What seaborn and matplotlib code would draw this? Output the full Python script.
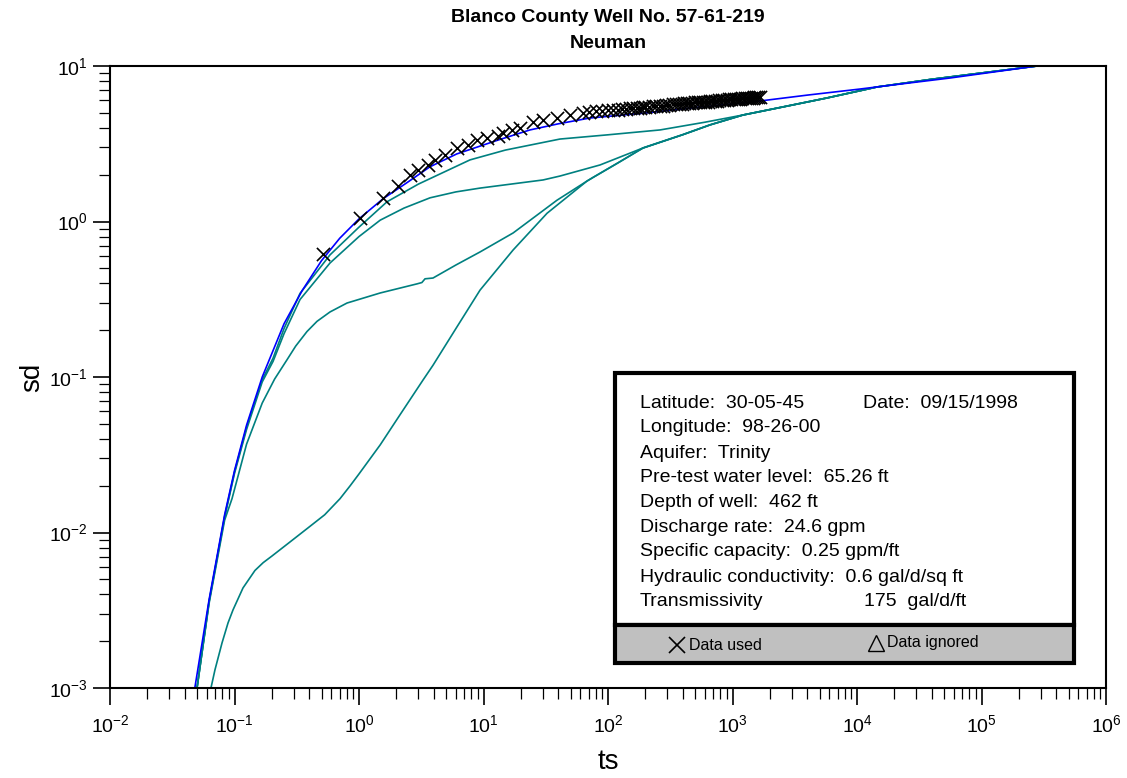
import numpy as np
import pandas as pd
import matplotlib
matplotlib.use("Agg")
import matplotlib.pyplot as plt
import seaborn as sns
from matplotlib.patches import Rectangle
from matplotlib.ticker import LogLocator, NullFormatter

# ---------------- data ----------------
blue_ts = [0.048, 0.0625, 0.0833, 0.1, 0.125, 0.167, 0.25, 0.35, 0.5, 0.7, 1.0, 1.56, 2.41, 3.72, 6.1,
           13.1, 23.6, 40, 71.6, 206, 519, 1384, 4000, 10570, 25000, 55800, 279000]
blue_sd = [0.001, 0.0037, 0.013, 0.025, 0.049, 0.10, 0.22, 0.36, 0.56, 0.78, 1.04, 1.40, 1.77, 2.25, 2.72,
           3.34, 3.88, 4.25, 4.63, 5.00, 5.42, 5.85, 6.50, 7.11, 7.74, 8.37, 10.0]

t1_ts = [0.050, 0.0625, 0.0833, 0.1, 0.125, 0.167, 0.204, 0.25, 0.336, 0.585, 1.0, 1.68, 3.0, 7.79, 15,
         41.1, 100, 262, 600, 1214, 2500, 5741, 14480, 40000, 279000]
t1_sd = [0.001, 0.0036, 0.0127, 0.0245, 0.0475, 0.096, 0.132, 0.205, 0.345, 0.61, 0.92, 1.34, 1.74, 2.49, 2.88,
         3.39, 3.61, 3.88, 4.35, 4.84, 5.44, 6.23, 7.33, 8.22, 10.0]

t2_ts = [0.050, 0.0625, 0.0833, 0.1, 0.125, 0.167, 0.204, 0.25, 0.336, 0.585, 1.0, 1.48, 2.3, 3.72, 6.0,
         9.38, 30.1, 41.1, 86.3, 191, 400, 659, 1214, 2500, 5741, 14480, 40000, 279000]
t2_sd = [0.001, 0.0036, 0.0125, 0.024, 0.046, 0.093, 0.126, 0.19, 0.315, 0.541, 0.80, 1.02, 1.22, 1.42, 1.55,
         1.64, 1.85, 1.96, 2.31, 2.97, 3.62, 4.18, 4.84, 5.44, 6.23, 7.33, 8.22, 10.0]

t3_ts = [0.050, 0.0625, 0.0833, 0.0955, 0.125, 0.167, 0.21, 0.264, 0.31, 0.382, 0.46, 0.585, 0.801, 1.48,
         2.92, 3.2, 3.39, 3.93, 6.0, 9.38, 17.3, 38.9, 67.8, 75.8, 120, 191, 400, 659, 1214, 2500, 5741,
         14480, 40000, 279000]
t3_sd = [0.001, 0.0035, 0.012, 0.0165, 0.037, 0.068, 0.097, 0.129, 0.158, 0.196, 0.228, 0.262, 0.299, 0.347,
         0.397, 0.405, 0.428, 0.433, 0.525, 0.637, 0.844, 1.37, 1.82, 1.92, 2.38, 2.97, 3.62, 4.18, 4.84,
         5.44, 6.23, 7.33, 8.22, 10.0]

t4_ts = [0.0647, 0.0697, 0.0794, 0.0887, 0.0973, 0.117, 0.146, 0.17, 0.200, 0.279, 0.389, 0.53, 0.704, 0.85,
         1.0, 1.48, 2.13, 3.27, 3.93, 6.12, 9.38, 17.3, 32.4, 67.8, 75.8, 120, 191, 400, 659, 1214, 2500, 5741,
         14480, 40000, 279000]
t4_sd = [0.001, 0.00131, 0.00195, 0.00262, 0.00318, 0.0044, 0.0057, 0.0064, 0.00706, 0.00869, 0.0107, 0.0130,
         0.0165, 0.0200, 0.0238, 0.0366, 0.057, 0.0957, 0.119, 0.21, 0.362, 0.656, 1.13, 1.82, 1.92, 2.38,
         2.97, 3.62, 4.18, 4.84, 5.44, 6.23, 7.33, 8.22, 10.0]

data_ts = [0.514, 1.02, 1.56, 2.06, 2.57, 2.98, 3.58, 4.07, 4.91, 6.12, 7.52, 8.87, 10.7, 13.1, 14.4, 16.9,
           19.6, 25.0, 30.1, 38.9, 49.5, 63.0,
           70, 80, 90, 100, 110, 120, 130, 140, 150, 160, 170, 180, 190, 200, 215, 230, 245, 260, 275, 290,
           310, 330, 350, 370, 390, 410, 430, 450, 475, 500, 525, 550, 575, 600, 630, 660, 690, 720, 750,
           780, 820, 860, 900, 940, 980, 1020, 1060, 1100, 1150, 1200, 1250, 1300, 1350, 1400, 1450, 1500,
           1550, 1600, 1660]
data_sd = [0.618, 1.05, 1.42, 1.69, 1.99, 2.14, 2.32, 2.49, 2.68, 2.97, 3.11, 3.34, 3.44, 3.55, 3.71, 3.88,
           4.00, 4.36, 4.50, 4.63, 4.84, 4.99,
           5.03, 5.10, 5.12, 5.18, 5.22, 5.24, 5.29, 5.30, 5.35, 5.36, 5.40, 5.40, 5.45, 5.46, 5.47, 5.52,
           5.53, 5.57, 5.57, 5.62, 5.62, 5.67, 5.67, 5.71, 5.72, 5.76, 5.75, 5.79, 5.80, 5.84, 5.84, 5.87,
           5.87, 5.91, 5.91, 5.95, 5.95, 5.98, 5.98, 6.02, 6.02, 6.05, 6.05, 6.09, 6.09, 6.12, 6.12, 6.15,
           6.15, 6.19, 6.19, 6.22, 6.22, 6.25, 6.25, 6.28, 6.28, 6.31, 6.31]

x_major = [1e-2, 1e-1, 1e0, 1e1, 1e2, 1e3, 1e4, 1e5, 1e6]
y_major = [1e-3, 1e-2, 1e-1, 1e0, 1e1]

info_lines = ["Latitude:  30-05-45", "Longitude:  98-26-00", "Aquifer:  Trinity",
              "Pre-test water level:  65.26 ft", "Depth of well:  462 ft", "Discharge rate:  24.6 gpm",
              "Specific capacity:  0.25 gpm/ft", "Hydraulic conductivity:  0.6 gal/d/sq ft", "Transmissivity"]
date_text = "Date:  09/15/1998"
trans_value = "175  gal/d/ft"

# ---------------- style ----------------
sns.set_style("white")
plt.rcParams["font.family"] = ["Liberation Sans", "DejaVu Sans"]
plt.rcParams["mathtext.fontset"] = "custom"
plt.rcParams["mathtext.rm"] = "Liberation Sans"
plt.rcParams["mathtext.it"] = "Liberation Sans:italic"
plt.rcParams["mathtext.bf"] = "Liberation Sans:bold"
plt.rcParams["axes.unicode_minus"] = False
for k in ["text.color", "axes.labelcolor", "xtick.color", "ytick.color", "axes.edgecolor"]:
    plt.rcParams[k] = "black"

TEAL = "#008080"
BLUE = "#0000ff"

fig = plt.figure(figsize=(11.27, 7.78), dpi=100)
ax = fig.add_axes([110 / 1127, 1 - 688 / 778, 996 / 1127, 622 / 778])

frames = []
for name, xs, ys in [("t1", t1_ts, t1_sd), ("t2", t2_ts, t2_sd), ("t3", t3_ts, t3_sd), ("t4", t4_ts, t4_sd)]:
    frames.append(pd.DataFrame({"ts": xs, "sd": ys, "curve": name}))
teal_df = pd.concat(frames, ignore_index=True)
blue_df = pd.DataFrame({"ts": blue_ts, "sd": blue_sd, "curve": "b"})
pts_df = pd.DataFrame({"ts": data_ts, "sd": data_sd})

sns.lineplot(data=teal_df, x="ts", y="sd", hue="curve", palette={k: TEAL for k in ["t1", "t2", "t3", "t4"]},
             estimator=None, sort=False, legend=False, linewidth=1.2, ax=ax)
sns.lineplot(data=blue_df, x="ts", y="sd", color=BLUE, estimator=None, sort=False, legend=False,
             linewidth=1.2, ax=ax)
sns.scatterplot(data=pts_df, x="ts", y="sd", marker="x", color="black", s=90, linewidth=1.2, ax=ax,
                zorder=5)

ax.set_xscale("log")
ax.set_yscale("log")
ax.set_xlim(1e-2, 1e6)
ax.set_ylim(1e-3, 1e1)
ax.set_xticks(x_major)
ax.set_yticks(y_major)
ax.xaxis.set_minor_locator(LogLocator(base=10, subs=np.arange(2, 10), numticks=20))
ax.yaxis.set_minor_locator(LogLocator(base=10, subs=np.arange(2, 10), numticks=20))
ax.xaxis.set_minor_formatter(NullFormatter())
ax.yaxis.set_minor_formatter(NullFormatter())

ax.tick_params(which="both", direction="out", bottom=True, left=True, top=False, right=False, colors="black")
ax.tick_params(which="major", length=12, width=1.2, labelsize=14)
ax.tick_params(which="minor", length=8, width=0.9)
ax.tick_params(axis="x", which="major", pad=7)
ax.tick_params(axis="y", which="major", pad=4)
for sp in ax.spines.values():
    sp.set_color("black")
    sp.set_linewidth(1.5)

ax.set_xlabel("ts", fontsize=20)
ax.set_ylabel("sd", fontsize=20)
ax.xaxis.label.set_va("center")
ax.yaxis.label.set_va("center")
ax.xaxis.set_label_coords(0.5, (688 - 762) / 622)
ax.yaxis.set_label_coords((32 - 110) / 996, 0.5)

cx = 608 / 1127
fig.text(cx, 1 - 17 / 778, "Blanco County Well No. 57-61-219", ha="center", va="center",
         fontsize=14, fontweight="bold")
fig.text(cx, 1 - 44 / 778, "Neuman", ha="center", va="center", fontsize=14, fontweight="bold")

# ---------------- info box ----------------
def ax_x(px):
    return (px - 110) / 996

def ax_y(py):
    return (688 - py) / 622

L, R, T, D, B = ax_x(615), ax_x(1074), ax_y(373), ax_y(625), ax_y(663)
ax.add_patch(Rectangle((L, D), R - L, T - D, transform=ax.transAxes, facecolor="white",
                       edgecolor="black", linewidth=3, zorder=10, clip_on=False))
ax.add_patch(Rectangle((L, B), R - L, D - B, transform=ax.transAxes, facecolor="#c0c0c0",
                       edgecolor="black", linewidth=3, zorder=10, clip_on=False))

line_y = [403, 428, 453, 477, 503, 527, 552, 577, 602]
for txt, py in zip(info_lines, line_y):
    ax.text(ax_x(640), ax_y(py), txt, transform=ax.transAxes, fontsize=14, va="center", ha="left",
            zorder=11)
ax.text(ax_x(863), ax_y(403), date_text, transform=ax.transAxes, fontsize=14, va="center", ha="left",
        zorder=11)
ax.text(ax_x(864), ax_y(602), trans_value, transform=ax.transAxes, fontsize=14, va="center", ha="left",
        zorder=11)

ax.plot([ax_x(677)], [ax_y(645)], marker="x", color="black", markersize=11, markeredgewidth=1.2,
        transform=ax.transAxes, zorder=12, clip_on=False)
ax.text(ax_x(689), ax_y(645), "Data used", transform=ax.transAxes, fontsize=11.5, va="center",
        ha="left", zorder=12)
ax.plot([ax_x(876)], [ax_y(643)], marker="^", color="black", markerfacecolor="none", markersize=11,
        markeredgewidth=1.0, transform=ax.transAxes, zorder=12, clip_on=False)
ax.text(ax_x(887), ax_y(642), "Data ignored", transform=ax.transAxes, fontsize=11.5, va="center",
        ha="left", zorder=12)

fig.savefig("out.png", dpi=100)
